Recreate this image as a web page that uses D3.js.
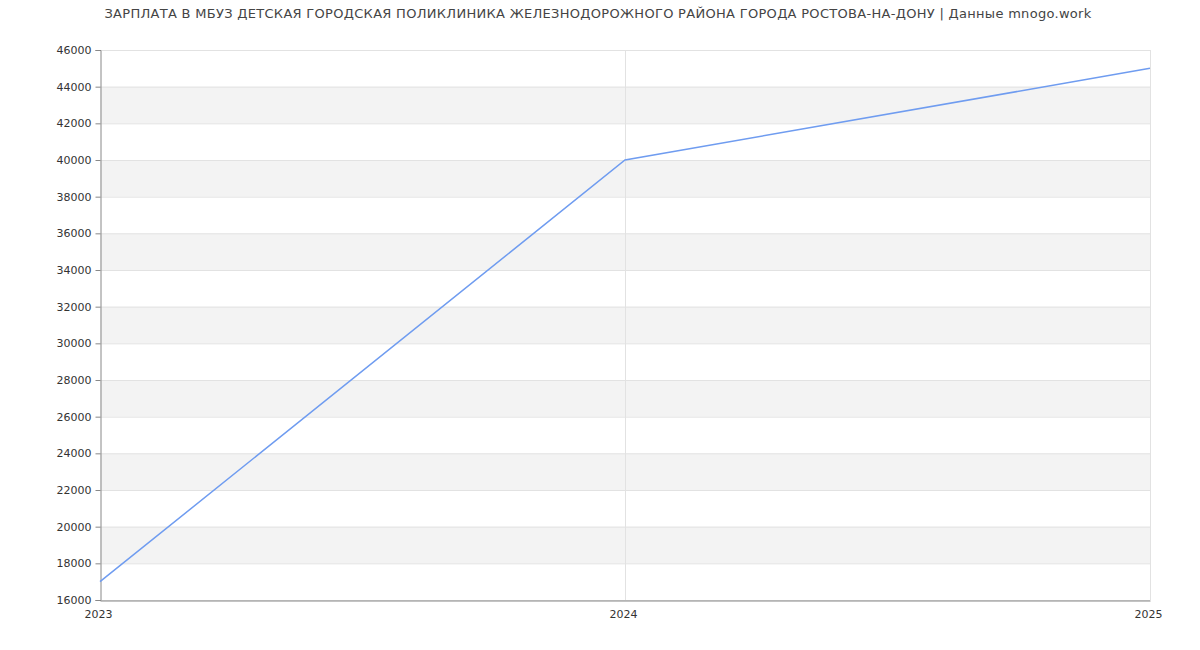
<!DOCTYPE html>
<html><head><meta charset="utf-8">
<script src="https://cdn.jsdelivr.net/npm/d3@7"></script>
<style>body{margin:0;background:#fff;font-family:"DejaVu Sans",sans-serif;}</style>
</head><body><svg id="c" width="1200" height="650"></svg>
<script>
const years = [2023, 2024, 2025];
const salaries = [17000, 40000, 45000];
const yTicks = [16000,18000,20000,22000,24000,26000,28000,30000,32000,34000,36000,38000,40000,42000,44000,46000];
const title = "ЗАРПЛАТА В МБУЗ ДЕТСКАЯ ГОРОДСКАЯ ПОЛИКЛИНИКА ЖЕЛЕЗНОДОРОЖНОГО РАЙОНА ГОРОДА РОСТОВА-НА-ДОНУ | Данные mnogo.work";

const svg = d3.select("#c");
const m = {l:100, r:50, t:50, b:50};
const W = 1200, H = 650;
const x = d3.scaleLinear().domain([2023, 2025]).range([m.l, W - m.r]);
const y = d3.scaleLinear().domain([16000, 46000]).range([H - m.b, m.t]);

// bands
const bands = [];
for (let i = 0; i < yTicks.length - 1; i++) if (i % 2 === 1) bands.push([yTicks[i], yTicks[i+1]]);
svg.append("g").selectAll("rect").data(bands).join("rect")
  .attr("x", m.l).attr("width", W - m.r - m.l)
  .attr("y", d => y(d[1])).attr("height", d => y(d[0]) - y(d[1]))
  .attr("fill", "#f3f3f3");

// horizontal grid
svg.append("g").selectAll("line").data(yTicks).join("line")
  .attr("x1", m.l).attr("x2", W - m.r)
  .attr("y1", d => y(d) + 0.5).attr("y2", d => y(d) + 0.5)
  .attr("stroke", "#e2e2e2");
// vertical grid
svg.append("g").selectAll("line").data(years.slice(1)).join("line")
  .attr("x1", d => Math.round(x(d)) + 0.5).attr("x2", d => Math.round(x(d)) + 0.5)
  .attr("y1", m.t).attr("y2", H - m.b)
  .attr("stroke", "#e2e2e2");

// y axis
const ya = svg.append("g").attr("transform", `translate(${m.l + 0.5},0)`)
  .call(d3.axisLeft(y).tickValues(yTicks).tickSize(5).tickPadding(4).tickFormat(d3.format("d")));
ya.selectAll("path,line").attr("stroke", "#888");
ya.selectAll("text").attr("fill", "#333").style("font-size", "11px").style("font-family", "DejaVu Sans");

// x axis
const xa = svg.append("g").attr("transform", `translate(0,${H - m.b + 0.5})`)
  .call(d3.axisBottom(x).tickValues(years).tickSize(0).tickPadding(10).tickFormat(d3.format("d")));
xa.selectAll("path").attr("stroke", "#888");
xa.selectAll("text").attr("fill", "#333").style("font-size", "11px").style("font-family", "DejaVu Sans")
  .attr("dx", "-2");

// line
svg.append("path").datum(years.map((d,i)=>[d, salaries[i]]))
  .attr("d", d3.line().x(d => x(d[0])).y(d => y(d[1])))
  .attr("fill", "none").attr("stroke", "#6f9cf0").attr("stroke-width", 1.5);

svg.append("text").attr("x", 598).attr("y", 18).attr("text-anchor", "middle")
  .attr("fill", "#444").style("font-size", "13px").style("letter-spacing", "0.3px")
  .style("font-family", "DejaVu Sans").text(title);
</script></body></html>
